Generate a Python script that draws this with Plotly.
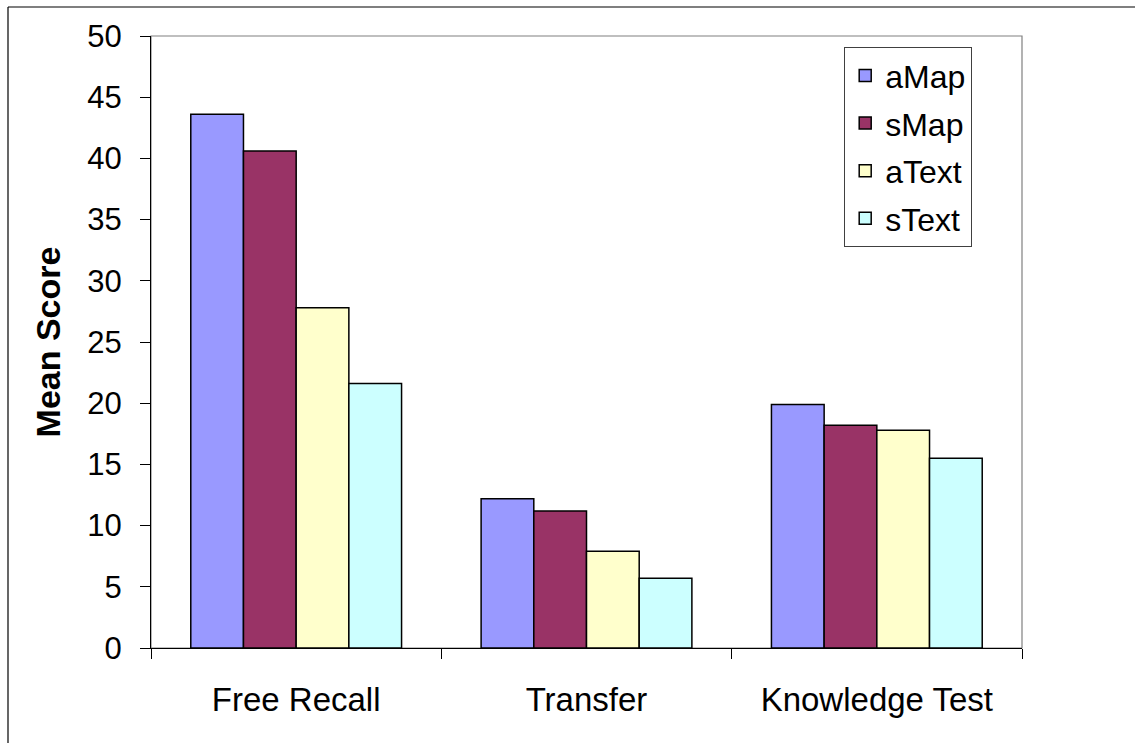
import plotly.graph_objects as go

# Mean scores per measure for each study condition
categories = ["Free Recall", "Transfer", "Knowledge Test"]
a_map = [43.6, 12.2, 19.9]
s_map = [40.6, 11.2, 18.2]
a_text = [27.8, 7.9, 17.8]
s_text = [21.6, 5.7, 15.5]
y_ticks = [0, 5, 10, 15, 20, 25, 30, 35, 40, 45, 50]

series = [
    ("aMap", a_map, "#9999FF"),
    ("sMap", s_map, "#993366"),
    ("aText", a_text, "#FFFFCC"),
    ("sText", s_text, "#CCFFFF"),
]

W, H = 1135, 743
ML, MR, MT, MB = 151, 113, 36, 95

fig = go.Figure()
for name, vals, color in series:
    fig.add_trace(go.Bar(
        name=name, x=categories, y=vals, legendgroup=name,
        marker=dict(color=color, line=dict(color="#000000", width=1.5)),
    ))

pw = W - ML - MR
ph = H - MT - MB
def px_x(p):
    return (p - ML) / pw
def px_y(p):
    return (H - MB - p) / ph

shapes = [
    # gray frame around the plot area (top/right visible)
    dict(type="rect", xref="paper", yref="paper", x0=0, x1=1, y0=0, y1=1,
         line=dict(color="#808080", width=1.2), layer="below"),
    # outer chart border
    dict(type="line", xref="paper", yref="paper", x0=px_x(8), x1=px_x(8),
         y0=px_y(7), y1=px_y(760), line=dict(color="#000000", width=1.2)),
    dict(type="line", xref="paper", yref="paper", x0=px_x(8), x1=px_x(1150),
         y0=px_y(7), y1=px_y(7), line=dict(color="#000000", width=1.2)),
]

font = "Arial, Liberation Sans, sans-serif"
fig.update_layout(
    width=W, height=H,
    margin=dict(l=ML, r=MR, t=MT, b=MB),
    paper_bgcolor="white", plot_bgcolor="white",
    barmode="group", bargap=0.274, bargroupgap=0,
    font=dict(family=font, color="#000000", size=30),
    shapes=shapes,
    showlegend=True,
    legend=dict(
        x=px_x(844), y=px_y(47), xanchor="left", yanchor="top",
        bgcolor="white", bordercolor="#404040", borderwidth=1.2,
        font=dict(size=32, family=font), tracegroupgap=3,
        itemwidth=30,
    ),
    xaxis=dict(
        type="category", showline=True, linecolor="#000000", linewidth=1.2,
        ticks="outside", tickson="boundaries", ticklen=10, tickcolor="#000000",
        tickfont=dict(size=33, family=font), showgrid=False,
        ticklabelstandoff=22, range=[-0.5, 2.5],
    ),
    yaxis=dict(
        range=[0, 50], tickvals=y_ticks, showline=True, linecolor="#000000",
        linewidth=1.2, ticks="outside", ticklen=10, tickcolor="#000000",
        tickfont=dict(size=31, family=font), showgrid=False, zeroline=False,
        ticklabelstandoff=12,
        title=dict(text="<b>Mean Score</b>", font=dict(size=34, family=font),
                   standoff=16),
    ),
)

fig.write_html("out.html")
